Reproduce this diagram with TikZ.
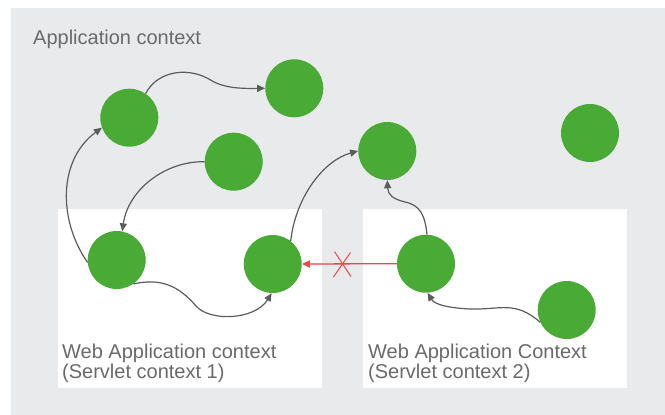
\documentclass[tikz,border=0pt]{standalone}
\usepackage{fontspec}
\setmainfont{Liberation Sans}
\usetikzlibrary{arrows.meta}
\definecolor{bggray}{HTML}{E9EAEC}
\definecolor{beangreen}{HTML}{49AA36}
\definecolor{linegray}{HTML}{5C5C60}
\definecolor{txtgray}{HTML}{6A6A6A}
\definecolor{xred}{HTML}{E84848}
\tikzset{
  bean/.style={circle, fill=beangreen, draw=none, inner sep=0pt, minimum size=58pt},
  dep/.style={draw=linegray, line width=1.2pt, -{Triangle[length=8pt,width=7pt]}},
  reddep/.style={draw=xred, line width=1.3pt, -{Triangle[length=8pt,width=7pt]}},
  redx/.style={draw=xred, line width=1pt},
  ctxlabel/.style={text=txtgray, inner sep=0pt, anchor=base west, font=\fontsize{20}{20}\selectfont},
  weblabel/.style={text=txtgray, inner sep=0pt, anchor=base west, font=\fontsize{20}{18.5}\selectfont}
}
\begin{document}
\begin{tikzpicture}[x=1pt,y=-1pt]
\useasboundingbox (0,0) rectangle (665,415);
\fill[white] (0,0) rectangle (665,415);
\fill[bggray] (11,8) rectangle (665,415);
\fill[white] (58,209) rectangle (322,388);
\fill[white] (363,209) rectangle (627,388);

\node[ctxlabel] (appctx) at (33,45) {Application context};
\node[weblabel] (web1) at (62,358) {\begin{tabular}[t]{@{}l@{}}Web Application context\\(Servlet context 1)\end{tabular}};
\node[weblabel] (web2) at (368,358) {\begin{tabular}[t]{@{}l@{}}Web Application Context\\(Servlet context 2)\end{tabular}};

\node[bean] (A) at (129.3,117.7) {};
\node[bean] (B) at (294.3,88.3) {};
\node[bean] (C) at (233.7,161.7) {};
\node[bean] (D) at (387.3,151) {};
\node[bean] (E) at (590,133) {};
\node[bean] (F) at (116.7,260) {};
\node[bean] (G) at (272.7,264) {};
\node[bean] (H) at (426,263.7) {};
\node[bean] (I) at (566.7,310) {};

% A -> B
\draw[dep] (A.56) .. controls (158,70) and (190,66) .. (213,81.5) .. controls (228,89) and (245,88.5) .. (B.180);
% F -> A
\draw[dep] (F.185) .. controls (58,220) and (58,160) .. (A.200);
% C -> F
\draw[dep] (C.180) .. controls (165,161) and (128,190) .. (F.79);
% F -> G
\draw[dep] (F.-55) .. controls (160,278) and (178,285) .. (196,306) .. controls (210,322) and (255,320) .. (G.268);
% G -> D
\draw[dep] (G.52) .. controls (296,195) and (325,160) .. (D.180);
% H -> D
\draw[dep] (H.88) .. controls (425,215) and (420,205) .. (405,202) .. controls (393,199) and (388,195) .. (D.270);
% I -> H
\draw[dep] (I.205) .. controls (515,300) and (500,310) .. (470,309) .. controls (450,308) and (435,305) .. (H.273);
% H -> G (forbidden)
\draw[reddep] (H.180) -- (G.0);
\coordinate (x1) at (334.5,251.7);
\coordinate (x2) at (351,276.5);
\coordinate (x3) at (350.5,252.5);
\coordinate (x4) at (333.5,277);
\draw[redx] (x1) -- (x2);
\draw[redx] (x3) -- (x4);
\end{tikzpicture}
\end{document}
